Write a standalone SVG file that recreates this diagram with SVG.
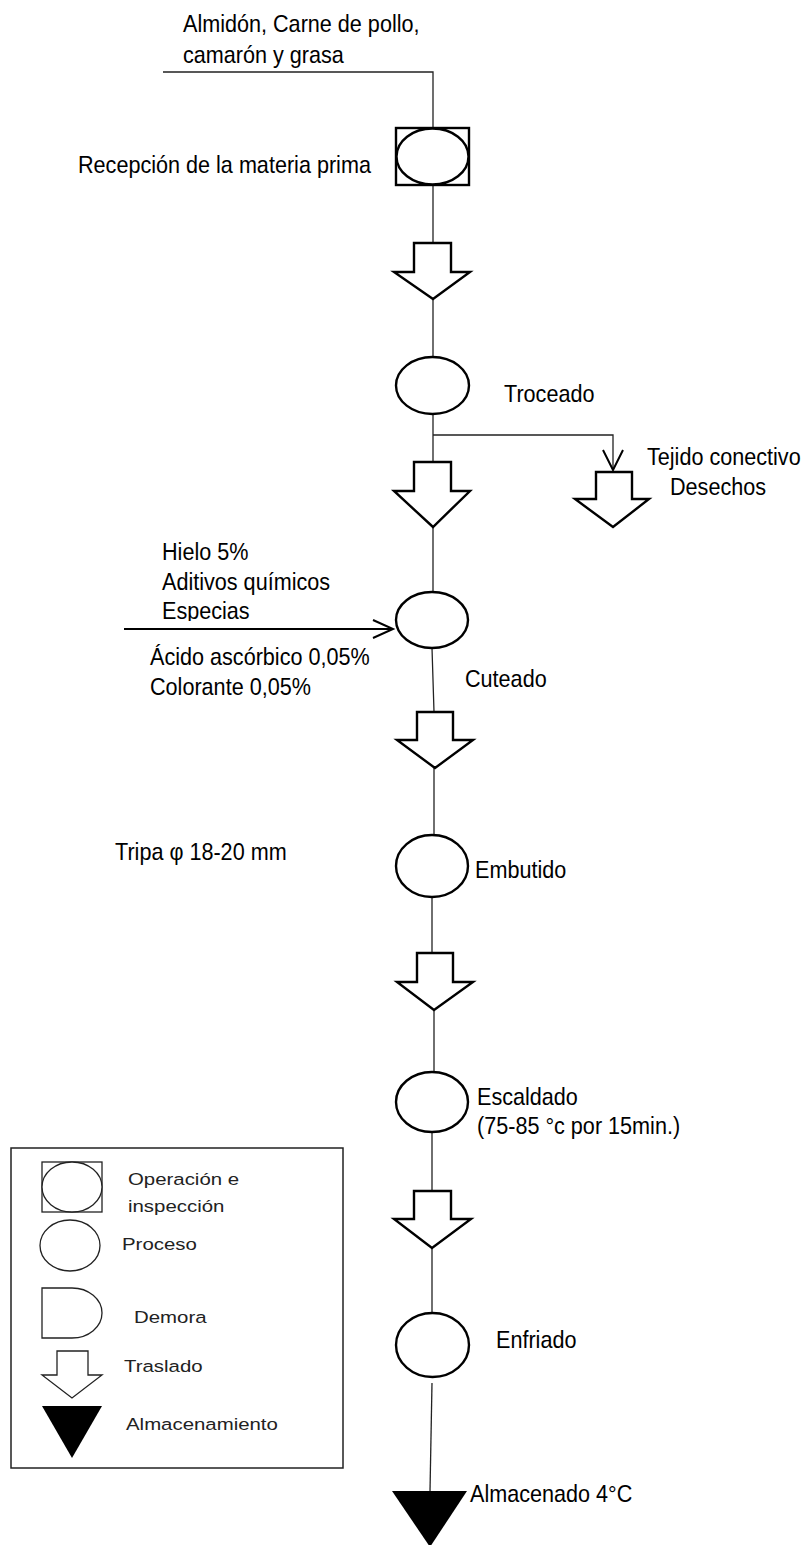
<svg xmlns="http://www.w3.org/2000/svg" width="808" height="1545" viewBox="0 0 808 1545">
<style>
.t{font-family:"Liberation Sans",Arial,sans-serif;font-size:24px;fill:#000}
.lt{font-family:"Liberation Sans",Arial,sans-serif;font-size:17px;fill:#222}
.sh{fill:#fff;stroke:#000;stroke-width:2.4}
.lg{fill:#fff;stroke:#222;stroke-width:1.3}
.ln{fill:none;stroke:#222;stroke-width:1.3}
.ah{fill:none;stroke:#000;stroke-width:2}
</style>
<defs>
<clipPath id="clipEsp"><rect x="0" y="590" width="400" height="31"/></clipPath>
</defs>
<rect width="808" height="1545" fill="#fff"/>
<g id="connectors">
<path class="ln" d="M163,72 H433 V128"/>
<path class="ln" d="M433,186 V243"/>
<path class="ln" d="M433,299 V357"/>
<path class="ln" d="M433,414 V462"/>
<path class="ln" d="M433,435 H613 V469"/>
<path class="ah" d="M603,450 L613,470 L623,450"/>
<path class="ln" d="M433,527 V592"/>
<path class="ah" d="M124,629 H393" stroke-width="2.2"/>
<path class="ah" d="M373,620 L393,629 L373,638"/>
<path class="ln" d="M432,648 L434,712"/>
<path class="ln" d="M434,768 V835"/>
<path class="ln" d="M432,897 V953"/>
<path class="ln" d="M434,1010 V1072"/>
<path class="ln" d="M432,1132 V1191"/>
<path class="ln" d="M432,1248 V1313"/>
<path class="ln" d="M432,1383 L430,1491"/>
</g>
<g id="top-input">
<text class="t" transform="translate(183,32) scale(0.9,1)">Almidón, Carne de pollo,</text>
<text class="t" transform="translate(183,63) scale(0.9,1)">camarón y grasa</text>
</g>
<g id="recepcion">
<rect class="sh" x="396" y="128" width="73" height="57"/>
<ellipse class="sh" cx="432.5" cy="156.5" rx="36" ry="28"/>
<text class="t" transform="translate(78,173) scale(0.9,1)">Recepción de la materia prima</text>
</g>
<g id="traslado1">
<path class="sh" d="M414,243 H451 V272 H470 L433,299 L394,272 H414 Z"/>
</g>
<g id="troceado">
<ellipse class="sh" cx="432.5" cy="385.5" rx="36.5" ry="28.5"/>
<text class="t" transform="translate(504,402) scale(0.9,1)">Troceado</text>
</g>
<g id="traslado2">
<path class="sh" d="M414,462 H451 V491 H470 L433,527 L394,491 H414 Z"/>
</g>
<g id="desechos">
<path class="sh" d="M596,472 H632 V499 H649 L613,527 L575,499 H596 Z"/>
<text class="t" transform="translate(647,465) scale(0.9,1)">Tejido conectivo</text>
<text class="t" transform="translate(670,495) scale(0.9,1)">Desechos</text>
</g>
<g id="aditivos">
<text class="t" transform="translate(162,560) scale(0.9,1)">Hielo 5%</text>
<text class="t" transform="translate(162,590) scale(0.9,1)">Aditivos químicos</text>
<g clip-path="url(#clipEsp)"><text class="t" transform="translate(162,619) scale(0.9,1)">Especias</text></g>
<text class="t" transform="translate(150,665) scale(0.9,1)">Ácido ascórbico 0,05%</text>
<text class="t" transform="translate(150,695) scale(0.9,1)">Colorante 0,05%</text>
</g>
<g id="cuteado">
<ellipse class="sh" cx="432" cy="620" rx="36" ry="28"/>
<text class="t" transform="translate(465,687) scale(0.9,1)">Cuteado</text>
</g>
<g id="traslado3">
<path class="sh" d="M417,712 H453 V740 H473 L435,768 L397,740 H417 Z"/>
</g>
<g id="embutido">
<ellipse class="sh" cx="432" cy="866" rx="36" ry="31"/>
<text class="t" transform="translate(475,878) scale(0.9,1)">Embutido</text>
<text class="t" transform="translate(115,860) scale(0.9,1)">Tripa φ 18-20 mm</text>
</g>
<g id="traslado4">
<path class="sh" d="M417,953 H453 V982 H473 L434,1010 L397,982 H417 Z"/>
</g>
<g id="escaldado">
<ellipse class="sh" cx="432" cy="1102" rx="36" ry="30"/>
<text class="t" transform="translate(477,1105) scale(0.9,1)">Escaldado</text>
<text class="t" transform="translate(477,1134) scale(0.9,1)">(75-85 °c por 15min.)</text>
</g>
<g id="traslado5">
<path class="sh" d="M414,1191 H451 V1219 H471 L432,1248 L394,1219 H414 Z"/>
</g>
<g id="enfriado">
<ellipse class="sh" cx="432.5" cy="1345" rx="36.5" ry="32"/>
<text class="t" transform="translate(496,1348) scale(0.9,1)">Enfriado</text>
</g>
<g id="almacenado">
<path d="M392,1491 H467 L430,1547 Z" fill="#000"/>
<text class="t" transform="translate(470,1502) scale(0.9,1)">Almacenado 4°C</text>
</g>
<g id="legend">
<rect x="11" y="1148" width="332" height="320" fill="none" stroke="#222" stroke-width="1.5"/>
<rect class="lg" x="42" y="1162" width="60" height="50"/>
<ellipse class="lg" cx="72" cy="1187" rx="30" ry="25"/>
<text class="lt" transform="translate(128,1185) scale(1.2,1)">Operación e</text>
<text class="lt" transform="translate(128,1212) scale(1.2,1)">inspección</text>
<ellipse class="lg" cx="70" cy="1245.5" rx="30" ry="25.5"/>
<text class="lt" transform="translate(122,1250) scale(1.2,1)">Proceso</text>
<path class="lg" d="M42,1288 H72 A30,25 0 0 1 72,1338 H42 Z"/>
<text class="lt" transform="translate(134,1323) scale(1.2,1)">Demora</text>
<path class="lg" d="M57,1351 H88 V1375 H102 L72,1398 L42,1375 H57 Z"/>
<text class="lt" transform="translate(124,1372) scale(1.2,1)">Traslado</text>
<path d="M42,1406 H102 L72,1458 Z" fill="#000"/>
<text class="lt" transform="translate(126,1430) scale(1.2,1)">Almacenamiento</text>
</g>
</svg>
